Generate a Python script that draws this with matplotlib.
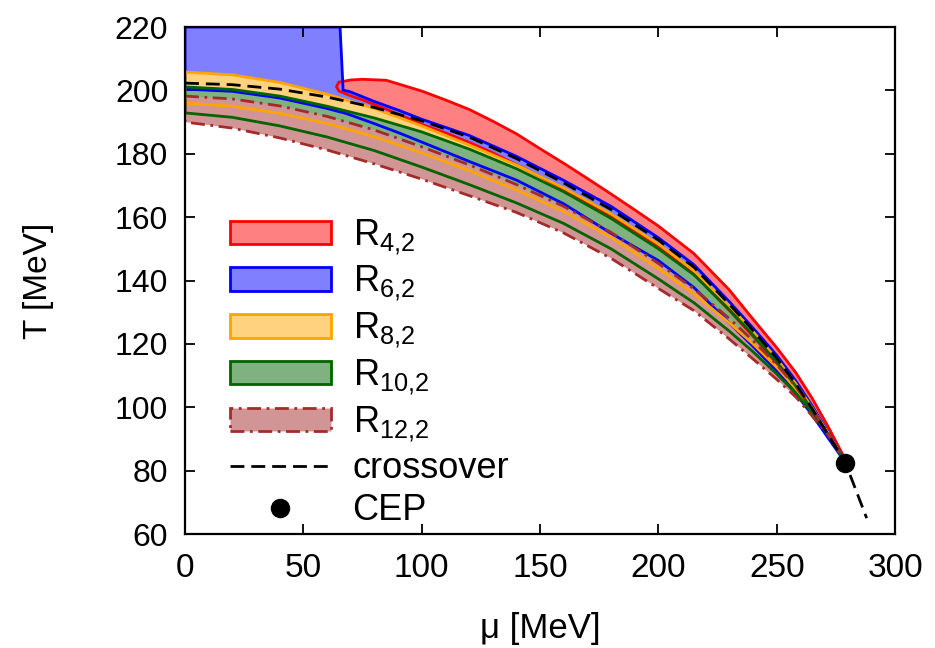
import matplotlib
matplotlib.use('Agg')
import matplotlib.pyplot as plt
from matplotlib.patches import Patch, Polygon
from matplotlib.lines import Line2D

plt.rcParams['font.family'] = ['Liberation Sans', 'DejaVu Sans']
plt.rcParams['mathtext.default'] = 'regular'

# chemical potential grid [MeV]
mu = [0, 20, 40, 60, 80, 100, 120, 140, 160, 180, 200, 215, 230, 240, 250, 258, 265, 272, 279]

# crossover line
cross_mu = mu + [288]
cross_T = [202.3, 201.8, 200.4, 197.9, 194.6, 190.4, 185.3, 178.5, 170.8, 162.4, 152.8,
           144.2, 132.5, 124.2, 115.5, 107.5, 99.5, 91.0, 82.5, 65.0]

# CEP
cep_mu, cep_T = 279, 82.5

# R4,2 band (starts at mu ~ 64)
r4_mu = [64, 65, 70, 75, 85, 100, 110, 120, 130, 140, 150, 160, 170, 180, 190, 200,
         215, 230, 240, 250, 258, 265, 272, 279]
r4_hi = [201.2, 202.6, 203.3, 203.5, 203.2, 199.8, 197.0, 194.0, 190.3, 186.3, 181.6,
         177.0, 172.2, 167.3, 162.3, 157.2, 148.5, 137.0, 127.8, 118.8, 111.0, 102.8, 93.5, 83.5]
r4_lo = [201.2, 199.8, 198.3, 197.0, 194.1, 189.3, 186.6, 183.6, 180.3, 176.6, 172.8,
         168.8, 164.6, 160.2, 155.6, 150.6, 142.0, 130.5, 122.4, 113.8, 106.0, 98.5, 90.5, 82.5]

# R6,2 band (upper edge cut at 220 below mu ~ 65)
r6_mu = [0, 20, 40, 60, 65.5, 66.8, 70, 80, 90, 100, 120, 140, 160, 180, 200, 215, 230, 240,
         250, 258, 265, 272, 279]
r6_hi = [220, 220, 220, 220, 220, 200.1, 199.5, 196.5, 193.8, 190.9, 185.8, 179.2, 171.6,
         163.4, 153.5, 145.0, 133.3, 125.0, 116.4, 108.4, 100.4, 91.8, 82.8]
r6_lo = [200.4, 199.7, 197.6, 194.3, 193.2, 193.0, 192.2, 189.5, 186.7, 183.7, 177.6, 171.7,
         164.2, 154.9, 146.3, 137.8, 126.6, 119.2, 111.5, 104.5, 97.5, 90.0, 82.5]

# R8,2 .. R12,2 bands
r8_hi = [205.8, 204.9, 202.5, 198.8, 194.3, 188.8, 182.8, 176.5, 169.2, 161.0, 151.5,
         143.2, 132.0, 123.9, 115.3, 107.5, 99.8, 91.5, 82.5]
r8_lo = [196.0, 195.0, 192.8, 189.6, 185.4, 180.3, 174.7, 168.6, 161.8, 153.6, 143.8,
         135.8, 126.6, 120.0, 112.6, 106.0, 99.0, 91.3, 82.5]
r10_hi = [201.1, 200.3, 198.2, 195.0, 191.3, 186.9, 181.5, 175.3, 168.0, 159.6, 150.0,
          141.8, 130.8, 122.8, 114.3, 106.7, 99.1, 91.0, 82.5]
r10_lo = [192.9, 191.5, 188.8, 185.3, 181.0, 175.8, 170.3, 164.5, 158.0, 150.0, 140.5,
          133.0, 124.0, 117.5, 110.5, 104.5, 98.2, 91.2, 82.5]
r12_hi = [198.2, 197.3, 195.1, 191.8, 187.5, 182.2, 176.5, 170.3, 163.4, 155.2, 145.4,
          137.4, 128.0, 121.0, 113.4, 106.6, 99.5, 91.6, 82.5]
r12_lo = [190.0, 188.1, 185.0, 181.2, 176.8, 172.0, 166.8, 161.5, 155.0, 147.0, 137.5,
          130.5, 121.5, 115.2, 108.8, 103.3, 97.2, 91.0, 82.5]

labels = [r'R$_{4{,}2}$', r'R$_{6{,}2}$', r'R$_{8{,}2}$', r'R$_{10{,}2}$', r'R$_{12{,}2}$']
edge_cols = ['red', 'blue', 'orange', 'darkgreen', 'brown']
fill_cols = ['#ff8080', '#8080ff', '#ffd280', '#80b280', '#d29595']
edge_ls = ['-', '-', '-', '-', (0, (5, 2, 1, 2))]

bands = [(r4_mu, r4_hi, r4_lo), (r6_mu, r6_hi, r6_lo), (mu, r8_hi, r8_lo),
         (mu, r10_hi, r10_lo), (mu, r12_hi, r12_lo)]

fig = plt.figure(figsize=(9.35, 6.48), dpi=100)
ax = fig.add_axes([0.1979, 0.1759, 0.7594, 0.7824])

handles = []
for (m, hi, lo), fc, c, ls, lab in zip(bands, fill_cols, edge_cols, edge_ls, labels):
    pts = list(zip(m, hi)) + list(zip(m[::-1], lo[::-1]))
    ax.add_patch(Polygon(pts, closed=True, facecolor=fc, edgecolor='none', zorder=1))
    handles.append(Patch(facecolor=fc, edgecolor=c, lw=2, ls=ls, label=lab))

# outlines on top of all fills
for (m, hi, lo), c, ls in zip(bands, edge_cols, edge_ls):
    pts = list(zip(m, hi)) + list(zip(m[::-1], lo[::-1]))
    ax.add_patch(Polygon(pts, closed=True, facecolor='none', edgecolor=c, lw=2, ls=ls,
                         joinstyle='round', zorder=2))

ax.plot(cross_mu, cross_T, color='black', lw=2, ls=(0, (5, 2.5)), zorder=3)
ax.plot([cep_mu], [cep_T], 'o', color='black', ms=13, zorder=4)

handles.append(Line2D([], [], color='black', lw=2, ls=(0, (5, 2.5)), label='crossover'))
handles.append(Line2D([], [], color='black', marker='o', ms=13, ls='none', label='CEP'))

ax.set_xlim(0, 300)
ax.set_ylim(60, 220)
ax.set_xticks(range(0, 301, 50))
ax.set_yticks(range(60, 221, 20))
ax.tick_params(direction='in', length=7, width=1.3, top=True, right=True)
ax.tick_params(axis='x', labelsize=24, pad=14)
ax.tick_params(axis='y', labelsize=23, pad=12)
for s in ax.spines.values():
    s.set_linewidth(1.6)
    s.set_zorder(5)

ax.set_xlabel('μ [MeV]', fontsize=25, labelpad=20)
ax.set_ylabel('T [MeV]', fontsize=24, labelpad=44)

ax.legend(handles=handles, loc='upper left', bbox_to_anchor=(0.063, 0.625),
          frameon=False, fontsize=26, borderaxespad=0, borderpad=0,
          handlelength=2.8, handleheight=0.62, handletextpad=0.6, labelspacing=0.2)

fig.savefig('out.png', dpi=100)
